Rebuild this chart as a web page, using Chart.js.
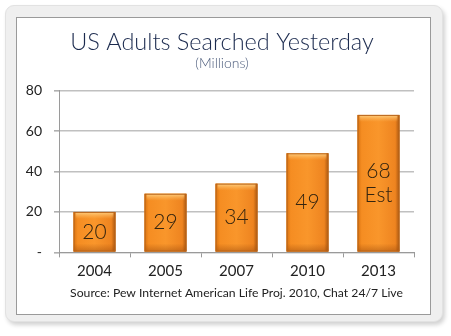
<!DOCTYPE html>
<html>
<head>
<meta charset="utf-8">
<script src="https://cdn.jsdelivr.net/npm/chart.js@4.4.1/dist/chart.umd.min.js"></script>
<style>
  html, body { margin: 0; padding: 0; background: #fff; }
  .wrap { position: relative; width: 451px; height: 336px; }
  .outer {
    position: absolute; left: 5px; top: 5px; width: 436px; height: 315px;
    background: #efefef; border: 1px solid #e2e2e2; border-radius: 9px;
    box-shadow: 2px 3px 4px rgba(0,0,0,0.18);
  }
  .inner {
    position: absolute; left: 16px; top: 17px; width: 413px; height: 296px;
    background: #fff; border: 1px solid #9a9a9a;
  }
  canvas { position: absolute; left: 0; top: 0; }
</style>
</head>
<body>
<div class="wrap">
  <div class="outer"></div>
  <div class="inner"></div>
  <canvas id="searchChart" width="451" height="336"></canvas>
</div>
<script>
const years = ['2004', '2005', '2007', '2010', '2013'];
const adults = [20, 29, 34, 49, 68];
const notes = ['', '', '', '', 'Est'];
const yTicks = [0, 20, 40, 60, 80];

// orange bars with a soft bevel, drawn over the plain bar fill
const bevelBars = {
    id: 'bevelBars',
    afterDatasetsDraw(chart) {
        const ctx = chart.ctx;
        chart.getDatasetMeta(0).data.forEach(bar => {
            const l = bar.x - bar.width / 2, r = bar.x + bar.width / 2;
            const t = bar.y, b = bar.base;
            ctx.save();
            const g = ctx.createLinearGradient(l, 0, r, 0);
            g.addColorStop(0, '#d9720f');
            g.addColorStop(0.1, '#f58d22');
            g.addColorStop(0.5, '#f9962b');
            g.addColorStop(0.9, '#ee8420');
            g.addColorStop(1, '#a9560f');
            ctx.fillStyle = g;
            ctx.fillRect(l, t, r - l, b - t);
            // top bevel
            const tg = ctx.createLinearGradient(0, t, 0, t + 7);
            tg.addColorStop(0, 'rgba(255,215,140,0.9)');
            tg.addColorStop(1, 'rgba(255,190,100,0)');
            ctx.fillStyle = tg;
            ctx.fillRect(l + 2, t, r - l - 4, 7);
            // darker base
            const bg = ctx.createLinearGradient(0, b - 8, 0, b);
            bg.addColorStop(0, 'rgba(150,70,10,0)');
            bg.addColorStop(1, 'rgba(150,70,10,0.45)');
            ctx.fillStyle = bg;
            ctx.fillRect(l, b - 8, r - l, 8);
            ctx.strokeStyle = '#b8651c';
            ctx.lineWidth = 1;
            ctx.strokeRect(l + 0.5, t + 0.5, r - l - 1, b - t - 1);
            ctx.restore();
        });
    }
};

// value text in the middle of each bar
const barValues = {
    id: 'barValues',
    afterDatasetsDraw(chart) {
        const ctx = chart.ctx;
        ctx.save();
        ctx.font = '300 21px Lato';
        ctx.fillStyle = '#33240f';
        ctx.textAlign = 'center';
        ctx.textBaseline = 'middle';
        chart.getDatasetMeta(0).data.forEach((bar, i) => {
            const lines = [String(adults[i])];
            if (notes[i]) lines.push(notes[i]);
            const mid = (bar.y + bar.base) / 2;
            const step = 24;
            lines.forEach((txt, k) => {
                ctx.fillText(txt, bar.x, mid + (k - (lines.length - 1) / 2) * step);
            });
        });
        ctx.restore();
    }
};

new Chart(document.getElementById('searchChart'), {
    type: 'bar',
    data: {
        labels: years,
        datasets: [{
            data: adults,
            backgroundColor: '#f28c1e',
            borderWidth: 0,
            barPercentage: 0.59,
            categoryPercentage: 1
        }]
    },
    options: {
        responsive: false,
        animation: false,
        layout: { padding: { top: 29, right: 7, bottom: 36, left: 0 } },
        plugins: {
            legend: { display: false },
            tooltip: { enabled: false },
            title: {
                display: true,
                text: 'US Adults Searched Yesterday',
                color: '#1b2a4e',
                font: { family: 'Lato', size: 23.5, weight: '300', lineHeight: 1.1 },
                padding: { top: 0, bottom: 0 }
            },
            subtitle: {
                display: true,
                text: '(Millions)',
                color: '#4a5a7a',
                font: { family: 'Lato', size: 14, weight: '300' },
                padding: { top: 0, bottom: 19 }
            }
        },
        scales: {
            x: {
                grid: {
                    offset: true,
                    drawOnChartArea: false,
                    color: '#9a9a9a',
                    tickLength: 5
                },
                border: { color: '#9a9a9a' },
                ticks: {
                    color: '#222',
                    padding: 5,
                    font: { family: 'Lato', size: 15 }
                },
                title: {
                    display: true,
                    text: 'Source: Pew Internet American Life Proj. 2010, Chat 24/7 Live',
                    color: '#222',
                    font: { family: 'Lato', size: 12.2 },
                    padding: { top: 0, bottom: 0 }
                }
            },
            y: {
                min: 0,
                max: 80,
                afterFit(scale) { scale.width = 59; },
                afterBuildTicks(scale) { scale.ticks = yTicks.map(v => ({ value: v })); },
                grid: { color: '#c0c0c0', lineWidth: 1.6, tickLength: 5, tickColor: '#b0b0b0' },
                border: { color: '#9a9a9a' },
                ticks: {
                    color: '#222',
                    padding: 12,
                    font: { family: 'Lato', size: 14 },
                    callback: v => v === 0 ? '-' : v
                }
            },
            // empty right-hand gutter so the title sits centred over the frame
            gutter: {
                type: 'linear',
                position: 'right',
                min: 0,
                max: 80,
                afterFit(scale) { scale.width = 30; },
                grid: { display: false },
                border: { display: false },
                ticks: { display: false }
            }
        }
    },
    plugins: [bevelBars, barValues]
});
</script>
</body>
</html>
